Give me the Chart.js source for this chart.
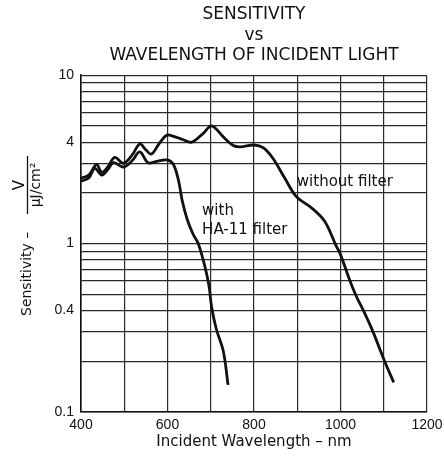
<!DOCTYPE html>
<html>
<head>
<meta charset="utf-8">
<script src="https://cdn.jsdelivr.net/npm/chart.js@4"></script>
<style>
  body { margin: 0; background: #fff; }
  canvas { display: block; }
</style>
</head>
<body>
<canvas id="chart" width="444" height="461"></canvas>
<script>
// wavelength (nm) / sensitivity (V per uJ/cm2)
const noFilterNm = [400, 418, 436, 448, 462, 478, 498, 518, 536, 550, 563, 580, 598, 612, 635, 656, 682, 702, 729, 752, 768, 800, 822, 844, 871, 898, 933, 963, 990, 1000, 1021, 1036, 1055, 1075, 1102, 1123];
const noFilterVal = [2.45, 2.55, 2.95, 2.65, 2.85, 3.25, 3.0, 3.35, 3.9, 3.6, 3.4, 3.9, 4.4, 4.35, 4.15, 4.0, 4.5, 5.0, 4.3, 3.82, 3.75, 3.85, 3.7, 3.2, 2.45, 1.9, 1.63, 1.36, 0.97, 0.86, 0.61, 0.49, 0.39, 0.3, 0.2, 0.15];

const ha11Nm = [400, 418, 432, 448, 462, 475, 498, 518, 536, 555, 575, 598, 613, 625, 634, 646, 659, 671, 686, 696, 702, 713, 729, 740];
const ha11Val = [2.35, 2.45, 2.8, 2.55, 2.75, 3.02, 2.85, 3.1, 3.5, 3.02, 3.08, 3.14, 2.97, 2.4, 1.8, 1.38, 1.14, 1.0, 0.74, 0.56, 0.42, 0.31, 0.23, 0.145];

// log grid lines and which of them get a label
const yGridValues = [0.1, 0.2, 0.3, 0.4, 0.5, 0.6, 0.7, 0.8, 0.9, 1, 2, 3, 4, 5, 6, 7, 8, 9, 10];
const yLabelValues = [0.1, 0.4, 1, 4, 10];
const xLabelValues = [400, 600, 800, 1000, 1200];

const ink = '#111';
const font = '"DejaVu Sans", sans-serif';

function toPoints(xs, ys) {
    return xs.map((x, i) => ({ x: x, y: ys[i] }));
}

// y axis title with the V / (uJ/cm2) fraction
const yTitlePlugin = {
    id: 'yTitle',
    afterDraw(chart) {
        const ctx = chart.ctx;
        ctx.save();
        ctx.fillStyle = ink;
        ctx.strokeStyle = ink;

        ctx.save();
        ctx.translate(31, 316);
        ctx.rotate(-Math.PI / 2);
        ctx.font = '14px ' + font;
        ctx.textAlign = 'left';
        ctx.fillText('Sensitivity \u2013', 0, 0);
        ctx.restore();

        ctx.save();
        ctx.translate(24, 185);
        ctx.rotate(-Math.PI / 2);
        ctx.font = '15px ' + font;
        ctx.textAlign = 'center';
        ctx.fillText('V', 0, 0);
        ctx.restore();

        ctx.lineWidth = 1.3;
        ctx.beginPath();
        ctx.moveTo(27.5, 156);
        ctx.lineTo(27.5, 214);
        ctx.stroke();

        ctx.save();
        ctx.translate(40, 185);
        ctx.rotate(-Math.PI / 2);
        ctx.font = '14px ' + font;
        ctx.textAlign = 'center';
        ctx.fillText('\u00b5J/cm\u00b2', 0, 0);
        ctx.restore();

        ctx.restore();
    }
};

// curve labels, placed in data coordinates
const curveLabelPlugin = {
    id: 'curveLabels',
    afterDatasetsDraw(chart) {
        const { ctx, scales: { x, y } } = chart;
        ctx.save();
        ctx.fillStyle = ink;
        ctx.font = '15px ' + font;
        ctx.textAlign = 'left';
        ctx.textBaseline = 'middle';
        ctx.fillText('with', x.getPixelForValue(680), y.getPixelForValue(1.55));
        ctx.fillText('HA-11 filter', x.getPixelForValue(680), y.getPixelForValue(1.2));
        ctx.fillText('without filter', x.getPixelForValue(899), y.getPixelForValue(2.33));
        ctx.restore();
    }
};

new Chart(document.getElementById('chart').getContext('2d'), {
    type: 'line',
    data: {
        datasets: [
            {
                label: 'without filter',
                data: toPoints(noFilterNm, noFilterVal),
                borderColor: ink,
                borderWidth: 2.8,
                pointRadius: 0,
                tension: 0.35,
                fill: false
            },
            {
                label: 'with HA-11 filter',
                data: toPoints(ha11Nm, ha11Val),
                borderColor: ink,
                borderWidth: 2.8,
                pointRadius: 0,
                tension: 0.35,
                fill: false
            }
        ]
    },
    options: {
        responsive: false,
        animation: false,
        layout: { padding: { left: 0, right: 17, top: 0, bottom: 0 } },
        plugins: {
            legend: { display: false },
            tooltip: { enabled: false },
            title: {
                display: true,
                fullSize: false,
                text: ['SENSITIVITY', 'vs', 'WAVELENGTH OF INCIDENT LIGHT'],
                color: ink,
                font: { family: font, size: 17, weight: 'normal', lineHeight: 1.18 },
                padding: { top: 5, bottom: 10 }
            }
        },
        scales: {
            x: {
                type: 'linear',
                min: 400,
                max: 1200,
                afterFit: scale => {
                    scale.height = 49;
                    scale.paddingLeft = 0;
                    scale.paddingRight = 0;
                },
                ticks: {
                    stepSize: 100,
                    color: ink,
                    padding: 5,
                    maxRotation: 0,
                    font: { family: '"Liberation Sans", sans-serif', size: 14 },
                    callback: v => xLabelValues.includes(v) ? String(v) : ''
                },
                grid: { color: '#2a2a2a', lineWidth: 1.2, drawTicks: false },
                border: { color: ink, width: 1.6 },
                title: {
                    display: true,
                    text: 'Incident Wavelength \u2013 nm',
                    color: ink,
                    font: { family: font, size: 15 },
                    padding: { top: 0, bottom: 10 }
                }
            },
            y: {
                type: 'logarithmic',
                min: 0.1,
                max: 10,
                afterFit: scale => { scale.width = 81; },
                afterBuildTicks: scale => {
                    scale.ticks = yGridValues.map(v => ({ value: v }));
                },
                ticks: {
                    color: ink,
                    padding: 7,
                    autoSkip: false,
                    font: { family: '"Liberation Sans", sans-serif', size: 14 },
                    callback: v => yLabelValues.includes(v) ? String(v) : ''
                },
                grid: { color: '#2a2a2a', lineWidth: 1.2, drawTicks: false },
                border: { color: ink, width: 1.6 }
            }
        }
    },
    plugins: [yTitlePlugin, curveLabelPlugin]
});
</script>
</body>
</html>
